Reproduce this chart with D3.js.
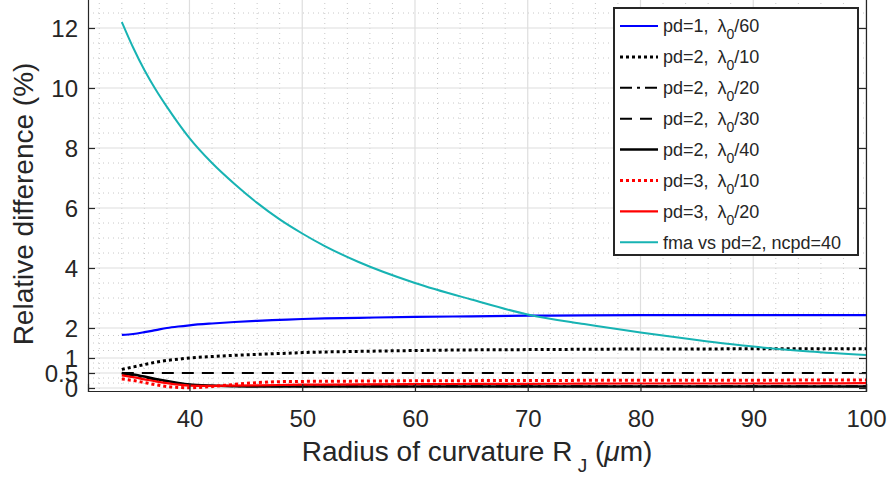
<!DOCTYPE html>
<html>
<head>
<meta charset="utf-8">
<script src="https://cdn.jsdelivr.net/npm/d3@7"></script>
<style>
  body { margin: 0; background: #fff; }
  svg text { font-family: "Liberation Sans", Arial, sans-serif; fill: #262626; }
</style>
</head>
<body>
<svg id="chart"></svg>
<script>
// data
var radius = [34, 35, 36, 37, 38, 39, 40, 42, 44, 46, 48, 50, 52, 55, 60, 65, 70, 75, 80, 85, 90, 95, 100];
var pd1_60 = [1.77, 1.8, 1.86, 1.93, 2.0, 2.05, 2.09, 2.15, 2.2, 2.24, 2.27, 2.3, 2.32, 2.34, 2.37, 2.39, 2.41, 2.42, 2.43, 2.43, 2.43, 2.43, 2.43];
var pd2_10 = [0.62, 0.7, 0.78, 0.86, 0.92, 0.96, 1.0, 1.05, 1.09, 1.12, 1.15, 1.18, 1.2, 1.22, 1.25, 1.27, 1.28, 1.29, 1.3, 1.3, 1.31, 1.31, 1.31];
var pd2_20 = [0.48, 0.42, 0.35, 0.28, 0.21, 0.15, 0.11, 0.07, 0.06, 0.06, 0.06, 0.06, 0.06, 0.06, 0.06, 0.06, 0.06, 0.06, 0.06, 0.06, 0.06, 0.06, 0.06];
var pd2_30 = [0.5, 0.5, 0.5, 0.5, 0.5, 0.5, 0.5, 0.5, 0.5, 0.5, 0.5, 0.5, 0.5, 0.5, 0.5, 0.5, 0.5, 0.5, 0.5, 0.5, 0.5, 0.5, 0.5];
var pd2_40 = [0.5, 0.45, 0.38, 0.3, 0.23, 0.17, 0.12, 0.08, 0.06, 0.05, 0.05, 0.05, 0.05, 0.05, 0.05, 0.05, 0.05, 0.05, 0.05, 0.05, 0.05, 0.05, 0.05];
var pd3_10 = [0.3, 0.25, 0.18, 0.11, 0.05, 0.02, 0.01, 0.05, 0.12, 0.18, 0.21, 0.22, 0.225, 0.23, 0.24, 0.245, 0.25, 0.255, 0.26, 0.26, 0.26, 0.265, 0.27];
var pd3_20 = [0.42, 0.36, 0.29, 0.22, 0.16, 0.11, 0.08, 0.07, 0.08, 0.09, 0.1, 0.11, 0.115, 0.12, 0.13, 0.135, 0.14, 0.145, 0.15, 0.15, 0.15, 0.155, 0.16];
var fma_40 = [12.2, 11.35, 10.6, 9.95, 9.37, 8.83, 8.33, 7.5, 6.8, 6.17, 5.62, 5.15, 4.73, 4.2, 3.5, 2.95, 2.45, 2.13, 1.85, 1.6, 1.38, 1.22, 1.1];

var xTicks = [40, 50, 60, 70, 80, 90, 100];
var yTicks = [0, 0.5, 1, 2, 4, 6, 8, 10, 12];

// series: label parts, colour, dash
var series = [
  { name: "pd=1,", lam: "/60", values: pd1_60, color: "#0000ff", dash: null, w: 2.2 },
  { name: "pd=2,", lam: "/10", values: pd2_10, color: "#000000", dash: "3,3", w: 3 },
  { name: "pd=2,", lam: "/20", values: pd2_20, color: "#000000", dash: "12,5,3,5", w: 2 },
  { name: "pd=2,", lam: "/30", values: pd2_30, color: "#000000", dash: "12,8", w: 2 },
  { name: "pd=2,", lam: "/40", values: pd2_40, color: "#000000", dash: null, w: 2.5 },
  { name: "pd=3,", lam: "/10", values: pd3_10, color: "#ff0000", dash: "3,3", w: 3 },
  { name: "pd=3,", lam: "/20", values: pd3_20, color: "#ff0000", dash: null, w: 2.2 },
  { name: "fma vs pd=2, ncpd=40", lam: null, values: fma_40, color: "#17b3b3", dash: null, w: 2 }
];

var margin = { top: -2, left: 88 },
  width = 866 - 88,
  height = 391 - margin.top;

var svg = d3.select("#chart").attr("width", 892).attr("height", 480);

var x = d3.scaleLinear().domain([31, 100]).range([0, width]);
var y = d3.scaleLinear().domain([-0.1, 13]).range([height, 0]);

var g = svg.append("g")
  .attr("transform", "translate(" + margin.left + "," + margin.top + ")");

// minor grid (dotted)
var xMinor = d3.range(32, 100, 2).filter(function (d) { return d % 10 != 0; });
var yMinor = [1 / 6, 1 / 3, 2 / 3, 5 / 6, 1.25, 1.5, 1.75].concat(d3.range(2.5, 13.1, 0.5).filter(function (d) { return d % 2 != 0; }));

g.append("g").selectAll("line")
  .data(xMinor).enter().append("line")
  .attr("x1", function (d) { return x(d); }).attr("x2", function (d) { return x(d); })
  .attr("y1", 0).attr("y2", height)
  .style("stroke", "#c8c8c8").style("stroke-dasharray", "1,4");
g.append("g").selectAll("line")
  .data(yMinor).enter().append("line")
  .attr("x1", 0).attr("x2", width)
  .attr("y1", function (d) { return y(d); }).attr("y2", function (d) { return y(d); })
  .style("stroke", "#c8c8c8").style("stroke-dasharray", "1,4");

// major grid
g.append("g").selectAll("line")
  .data(xTicks).enter().append("line")
  .attr("x1", function (d) { return x(d); }).attr("x2", function (d) { return x(d); })
  .attr("y1", 0).attr("y2", height)
  .style("stroke", "#dedede").style("stroke-width", 1.2);
g.append("g").selectAll("line")
  .data(yTicks).enter().append("line")
  .attr("x1", 0).attr("x2", width)
  .attr("y1", function (d) { return y(d); }).attr("y2", function (d) { return y(d); })
  .style("stroke", "#dedede").style("stroke-width", 1.2);

// lines
g.append("clipPath").attr("id", "clip")
  .append("rect").attr("width", width).attr("height", height);

var line = d3.line()
  .x(function (d, i) { return x(radius[i]); })
  .y(function (d) { return y(d); })
  .curve(d3.curveMonotoneX);

g.append("g").attr("clip-path", "url(#clip)")
  .selectAll("path")
  .data(series).enter().append("path")
  .attr("d", function (s) { return line(s.values); })
  .style("fill", "none")
  .style("stroke", function (s) { return s.color; })
  .style("stroke-width", function (s) { return s.w; })
  .style("stroke-dasharray", function (s) { return s.dash; });

// axes, ticks inward like matlab
var axisColor = "#262626";
var xAxis = g.append("g")
  .attr("transform", "translate(0," + height + ")")
  .call(d3.axisBottom(x).tickValues(xTicks).tickSize(-7).tickPadding(19).tickFormat(d3.format("d")));
var yAxis = g.append("g")
  .call(d3.axisLeft(y).tickValues(yTicks).tickSize(-7).tickPadding(10).tickFormat(function (d) { return d; }));
var yAxisR = g.append("g")
  .attr("transform", "translate(" + width + ",0)")
  .call(d3.axisRight(y).tickValues(yTicks).tickSize(-7).tickFormat(""));

[xAxis, yAxis, yAxisR].forEach(function (a) {
  a.select(".domain").style("stroke", axisColor).style("stroke-width", 1.2);
  a.selectAll(".tick line").style("stroke", axisColor).style("stroke-width", 1.2);
  a.selectAll("text").style("font-size", "24px").style("fill", axisColor)
    .style("font-family", "'Liberation Sans', Arial, sans-serif");
});
xAxis.selectAll("text").attr("dy", "0.71em");
yAxis.selectAll("text").attr("dy", "0.36em");

// axis labels
var xl = svg.append("text")
  .attr("x", 477).attr("y", 461)
  .style("text-anchor", "middle")
  .style("font-size", "28px");
xl.append("tspan").text("Radius of curvature R");
xl.append("tspan").attr("dy", 11).style("font-size", "19px").text(" J");
xl.append("tspan").attr("dy", -11).text(" (");
xl.append("tspan").style("font-style", "italic").text("\u03bc");
xl.append("tspan").text("m)");

svg.append("text")
  .attr("transform", "translate(33,204) rotate(-90)")
  .style("text-anchor", "middle")
  .style("font-size", "28px")
  .text("Relative difference (%)");

// legend
var lg = svg.append("g").attr("transform", "translate(614,8)");
lg.append("rect")
  .attr("width", 244).attr("height", 247)
  .style("fill", "#fff").style("stroke", "#262626").style("stroke-width", 2);

var row = lg.selectAll("g.row")
  .data(series).enter().append("g")
  .attr("transform", function (d, i) { return "translate(0," + (18 + i * 30.9) + ")"; });

row.append("line")
  .attr("x1", 6).attr("x2", 44)
  .style("stroke", function (s) { return s.color; })
  .style("stroke-width", function (s) { return s.w; })
  .style("stroke-dasharray", function (s) { return s.dash; });

var lt = row.append("text")
  .attr("x", 49).attr("dy", "0.36em")
  .style("font-size", "18px");
lt.append("tspan").text(function (s) { return s.name; });
lt.filter(function (s) { return s.lam; }).each(function (s) {
  var t = d3.select(this);
  t.append("tspan").attr("dx", 9).text("\u03bb");
  t.append("tspan").attr("dy", 7).style("font-size", "14px").text("0");
  t.append("tspan").attr("dy", -7).text(s.lam);
});
</script>
</body>
</html>
